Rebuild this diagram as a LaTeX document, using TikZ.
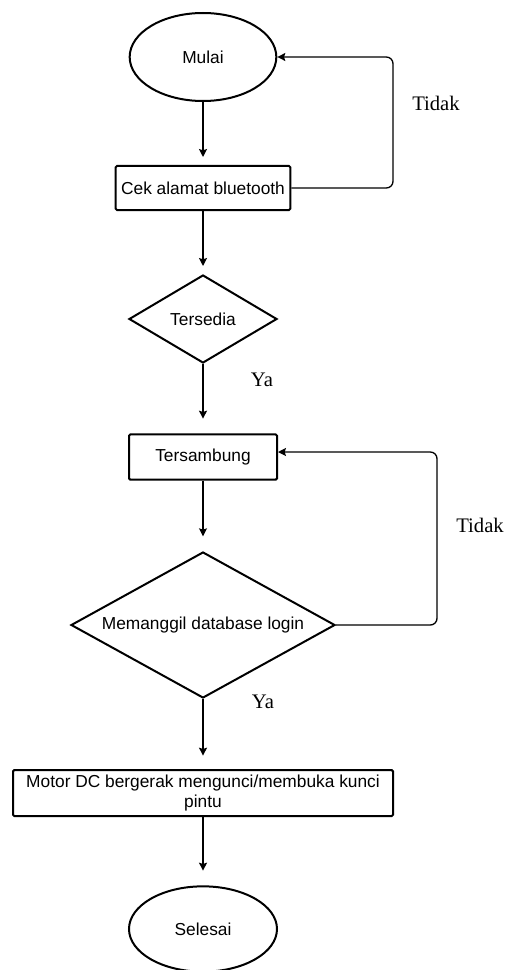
\documentclass[tikz,border=0pt]{standalone}
\usepackage{fontspec}
\setmainfont{Liberation Sans}
\newfontfamily\answerfont{Liberation Serif}
\usetikzlibrary{shapes.geometric,arrows.meta}
\tikzset{
    terminal/.style={ellipse, draw, line width=1.5pt, inner sep=0pt,
            minimum width=110pt, minimum height=66pt},
    process/.style={rectangle, draw, line width=1.5pt, rounded corners=1pt,
            inner sep=0pt, minimum height=34pt},
    decision/.style={diamond, draw, line width=1.5pt, inner sep=0pt},
    flow/.style={-{Stealth[length=6pt,width=6pt,inset=1pt]}, line width=1pt},
    answer/.style={font=\answerfont\fontsize{15.5}{18}\selectfont},
}

\begin{document}
\begin{tikzpicture}[x=0.75pt, y=-0.75pt, font=\fontsize{13}{15}\selectfont]
        \useasboundingbox (0, 0) rectangle (504, 970);
        %draw the steps
        \node[terminal] (mulai) at (203, 57) {Mulai};
        \node[process, minimum width=131pt, minimum height=33pt] (cek) at (203, 188) {Cek alamat bluetooth};
        \node[decision, minimum width=111pt, minimum height=66pt] (tersedia) at (203, 319) {Tersedia};
        \node[process, minimum width=111pt] (sambung) at (203, 457) {Tersambung};
        \node[decision, shape aspect=1.8, minimum width=198pt, minimum height=109.5pt] (login) at (203, 625) {Memanggil database login};
        \node[process, minimum width=285pt, minimum height=34.5pt, align=center] (motor) at (203, 793) {Motor DC bergerak mengunci/membuka kunci\\pintu};
        \node[terminal, minimum width=111pt, minimum height=64pt] (selesai) at (203, 929) {Selesai};
        %loop corners
        \coordinate (turna) at (393, 57);
        \coordinate (turnb) at (437, 452);
        %draw arrows
        \draw[flow, shorten >=6pt] (mulai) -- (cek);
        \draw[flow, shorten >=6pt] (cek) -- (tersedia);
        \draw[flow, shorten >=11pt] (tersedia) -- (sambung);
        \draw[flow, shorten >=11pt] (sambung) -- (login);
        \draw[flow, shorten >=10pt] (login) -- (motor);
        \draw[flow, shorten >=11pt] (motor) -- (selesai);
        %draw loops
        \draw[flow, rounded corners=5pt] (cek.east) -| (turna) -- (mulai.east);
        \draw[flow, rounded corners=5pt] (login.east) -| (turnb) -- (turnb -| sambung.east);
        %label answers
        \node[answer] (tidaka) at (436, 103) {Tidak};
        \node[answer] (yaa) at (262, 380) {Ya};
        \node[answer] (tidakb) at (480, 525) {Tidak};
        \node[answer] (yab) at (263, 702) {Ya};
    \end{tikzpicture}
\end{document}
